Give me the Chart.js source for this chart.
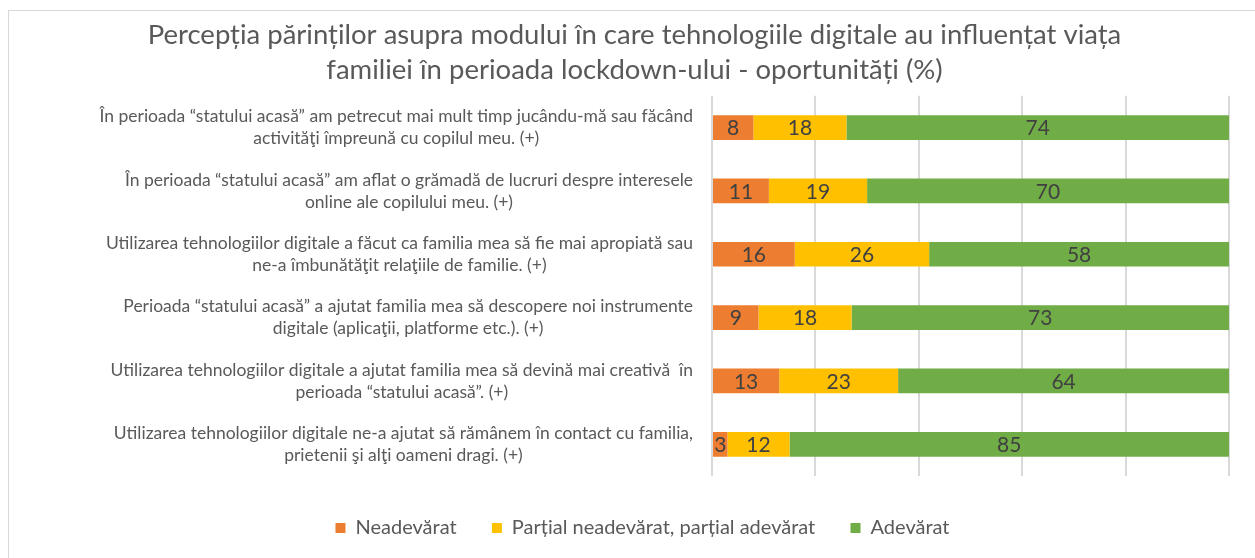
<!DOCTYPE html>
<html>
<head>
<meta charset="utf-8">
<script src="https://cdn.jsdelivr.net/npm/chart.js@4/dist/chart.umd.min.js"></script>
<style>
html,body{margin:0;padding:0;background:#fff;}
#wrap{position:relative;width:1255px;height:558px;}
</style>
</head>
<body>
<div id="wrap"><canvas id="c"></canvas></div>
<script>
const categories = [
  ["În perioada “statului acasă” am petrecut mai mult timp jucându-mă sau făcând", "activităţi împreună cu copilul meu. (+)"],
  ["În perioada “statului acasă” am aflat o grămadă de lucruri despre interesele", "online ale copilului meu. (+)"],
  ["Utilizarea tehnologiilor digitale a făcut ca familia mea să fie mai apropiată sau", "ne-a îmbunătăţit relaţiile de familie. (+)"],
  ["Perioada “statului acasă” a ajutat familia mea să descopere noi instrumente", "digitale (aplicaţii, platforme etc.). (+)"],
  ["Utilizarea tehnologiilor digitale a ajutat familia mea să devină mai creativă  în", "perioada “statului acasă”. (+)"],
  ["Utilizarea tehnologiilor digitale ne-a ajutat să rămânem în contact cu familia,", "prietenii şi alţi oameni dragi. (+)"]
];
const seriesNames = ["Neadevărat", "Parțial neadevărat, parțial adevărat", "Adevărat"];
const neadevarat = [8, 11, 16, 9, 13, 3];
const partial = [18, 19, 26, 18, 23, 12];
const adevarat = [74, 70, 58, 73, 64, 85];
const xTicks = [0, 20, 40, 60, 80, 100];
const titleLines = ["Percepția părinților asupra modului în care tehnologiile digitale au influențat viața", "familiei în perioada lockdown-ului - oportunități (%)"];

const FONT = "Lato, 'Open Sans', sans-serif";

const borderPlugin = {
  id: 'outerBorder',
  beforeDraw(chart) {
    const ctx = chart.ctx;
    ctx.save();
    ctx.fillStyle = '#fff';
    ctx.fillRect(0, 0, chart.width, chart.height);
    ctx.strokeStyle = '#d9d9d9';
    ctx.lineWidth = 1;
    ctx.strokeRect(8.5, 10.5, chart.width, chart.height);
    ctx.restore();
  }
};

const legendShiftPlugin = {
  id: 'legendShift',
  afterLayout(chart) {
    if (chart.legend) {
      chart.legend.left += 8;
      chart.legend.right += 8;
    }
  }
};

const catLabelPlugin = {
  id: 'catLabels',
  afterDraw(chart) {
    const ctx = chart.ctx;
    const y = chart.scales.y;
    const rightEdge = 693;
    ctx.save();
    ctx.font = "17.5px " + FONT;
    ctx.fillStyle = '#595959';
    ctx.textBaseline = 'middle';
    ctx.textAlign = 'center';
    const lh = 22;
    chart.data.labels.forEach((lines, i) => {
      const cy = y.getPixelForValue(i);
      const w = Math.max(...lines.map(l => ctx.measureText(l).width));
      const cx = rightEdge - w / 2;
      lines.forEach((l, j) => {
        ctx.fillText(l, cx, cy + (j - (lines.length - 1) / 2) * lh);
      });
    });
    ctx.restore();
  }
};

const valueLabelPlugin = {
  id: 'valueLabels',
  afterDatasetsDraw(chart) {
    const ctx = chart.ctx;
    ctx.save();
    ctx.font = "21px " + FONT;
    ctx.fillStyle = '#404040';
    ctx.textAlign = 'center';
    ctx.textBaseline = 'middle';
    chart.data.datasets.forEach((ds, di) => {
      const meta = chart.getDatasetMeta(di);
      meta.data.forEach((bar, i) => {
        const cx = (bar.x + bar.base) / 2;
        ctx.fillText(String(ds.data[i]), cx, bar.y + 1);
      });
    });
    ctx.restore();
  }
};

new Chart(document.getElementById('c'), {
  type: 'bar',
  data: {
    labels: categories,
    datasets: [
      { label: seriesNames[0], data: neadevarat, backgroundColor: '#ED7D31' },
      { label: seriesNames[1], data: partial, backgroundColor: '#FFC000' },
      { label: seriesNames[2], data: adevarat, backgroundColor: '#70AD47' }
    ]
  },
  options: {
    indexAxis: 'y',
    responsive: true,
    maintainAspectRatio: false,
    animation: false,
    datasets: { bar: { barPercentage: 0.39, categoryPercentage: 1.0 } },
    layout: { padding: { left: 14, right: 0, top: 8, bottom: 10 } },
    scales: {
      x: {
        stacked: true,
        min: 0, max: 100,
        afterBuildTicks(scale) { scale.ticks = xTicks.map(v => ({ value: v })); },
        afterFit(scale) { scale.height = 32; },
        ticks: { display: false },
        grid: { color: '#d9d9d9', lineWidth: 2, drawTicks: false },
        border: { display: false }
      },
      y: {
        stacked: true,
        position: 'left',
        afterFit(scale) { scale.width = 698; },
        ticks: { display: false },
        grid: { display: false, drawTicks: false },
        border: { display: false }
      },
      yRight: {
        type: 'linear',
        position: 'right',
        afterFit(scale) { scale.width = 26; },
        ticks: { display: false },
        grid: { display: false, drawTicks: false },
        border: { display: false }
      }
    },
    plugins: {
      title: {
        display: true,
        text: titleLines,
        color: '#595959',
        font: { family: FONT, size: 27.5, weight: 'normal', lineHeight: 1.27 },
        padding: { top: 10, bottom: 8 }
      },
      legend: {
        display: true,
        position: 'bottom',
        labels: {
          color: '#595959',
          font: { family: FONT, size: 20 },
          boxWidth: 10,
          boxHeight: 10,
          padding: 10,
          generateLabels(chart) {
            const items = Chart.defaults.plugins.legend.labels.generateLabels(chart);
            const suffix = ['\u2003  ', '\u2003  ', ''];
            items.forEach((it, i) => {
              it.lineWidth = 0;
              it.text = it.text + suffix[i];
            });
            return items;
          }
        }
      },
      tooltip: { enabled: false }
    }
  },
  plugins: [borderPlugin, legendShiftPlugin, catLabelPlugin, valueLabelPlugin]
});
</script>
</body>
</html>
